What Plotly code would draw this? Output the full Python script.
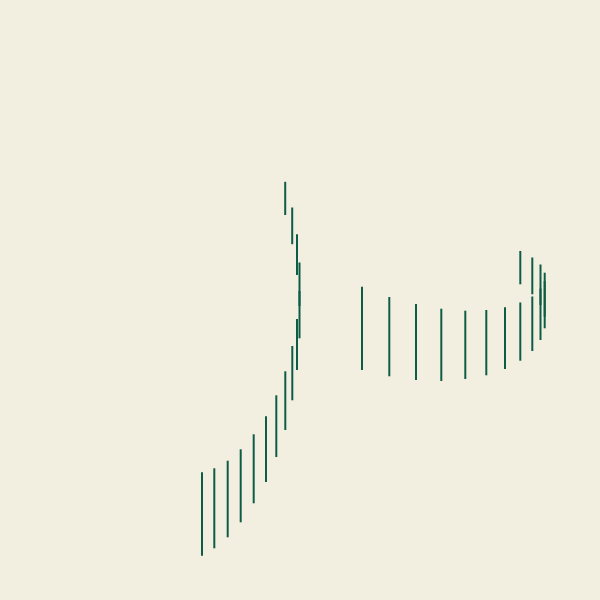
import plotly.graph_objects as go

# Segment positions (x) with low / high values, in curve order
x_left = [202, 214.3, 227.7, 240.7, 253.7, 266, 276.3, 285.3, 292.3, 297, 299.5, 299.5, 297, 292.2, 285.2]
low_left = [44.3, 51.7, 62.7, 77.7, 96.7, 118, 143, 170, 199.7, 230, 261.7, 294, 325, 355.8, 385]
high_left = [127.7, 131.7, 139.3, 150.7, 165.7, 183.7, 204.7, 228.7, 254, 281, 309, 337.5, 365.7, 392.5, 418.2]

x_right = [362, 389.3, 416, 441.3, 465.3, 486.3, 505, 520.3, 532.3, 540.5, 544.7, 544.7, 540.5, 532.3, 520.3]
low_right = [230, 223.7, 220, 219, 221, 224.7, 231, 239.3, 249, 260, 271.7, 283.3, 295, 305.7, 315.7]
high_right = [313.3, 303, 296, 291.3, 289.3, 290, 292.7, 297.5, 303.5, 311.5, 319, 327.3, 335.5, 342.5, 349]

BG = "#f2eee0"

xs, ys = [], []
for xv, lo, hi in zip(x_left + x_right, low_left + low_right, high_left + high_right):
    xs += [xv, xv, None]
    ys += [lo, hi, None]

fig = go.Figure(go.Scatter(x=xs, y=ys, mode="lines",
                           line=dict(color="#0d5c46", width=2),
                           hoverinfo="skip", showlegend=False))
fig.update_layout(
    width=600, height=600,
    margin=dict(l=0, r=0, t=0, b=0),
    paper_bgcolor=BG, plot_bgcolor=BG,
    xaxis=dict(range=[0, 600], visible=False, fixedrange=True),
    yaxis=dict(range=[0, 600], visible=False, fixedrange=True),
)
fig.write_html(
    "out.html",
    config={"displayModeBar": False},
    post_script="document.body.style.margin='0';document.body.style.overflow='hidden';"
                "document.body.style.background='" + BG + "';",
)
